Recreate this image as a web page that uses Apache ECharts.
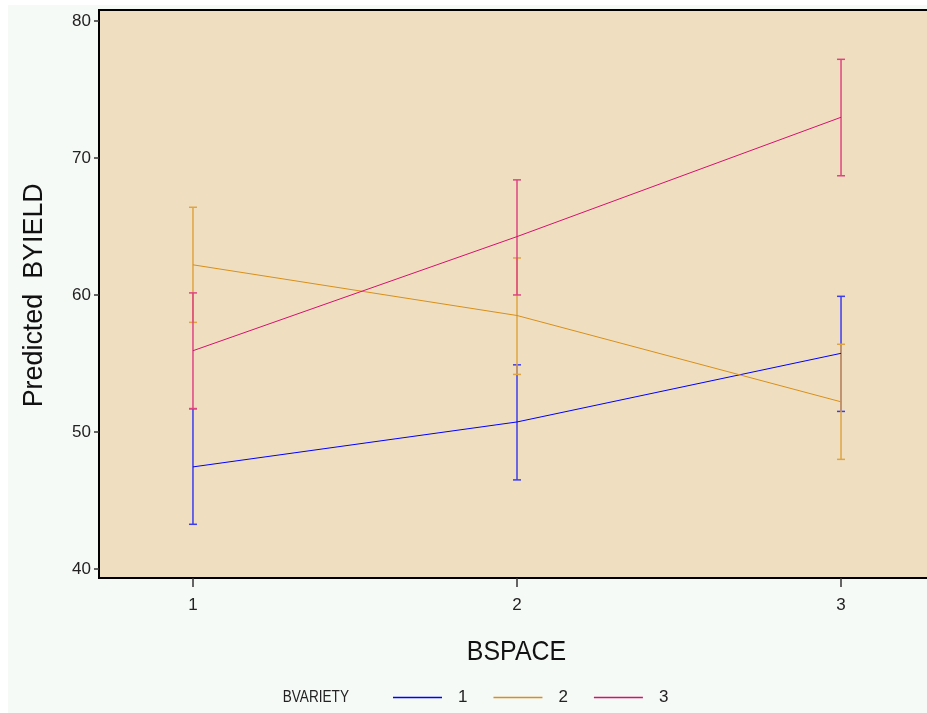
<!DOCTYPE html>
<html>
<head>
<meta charset="utf-8">
<script src="https://cdn.jsdelivr.net/npm/echarts@6/dist/echarts.min.js"></script>
<style>
  html, body { margin: 0; padding: 0; background: #ffffff; overflow: hidden; width: 927px; height: 713px; }
  #chart { position: absolute; left: 8px; top: 5px; width: 940px; height: 708px; }
</style>
</head>
<body>
<div id="chart"></div>
<script>
// BSPACE levels on the x axis
const spaces = [1, 2, 3];
// BVARIETY groups
const varieties = ['1', '2', '3'];

// Predicted BYIELD with lower / upper confidence limits, per variety
const pred1  = [47.45, 50.73, 55.74];
const lower1 = [43.26, 46.50, 51.50];
const upper1 = [51.70, 54.90, 59.90];

const pred2  = [62.20, 58.50, 52.20];
const lower2 = [58.00, 54.20, 48.00];
const upper2 = [66.40, 62.70, 56.40];

const pred3  = [55.93, 64.26, 72.97];
const lower3 = [51.70, 60.00, 68.70];
const upper3 = [60.15, 68.40, 77.20];

const yTicks = [40, 50, 60, 70, 80];

// line colours and the softer tones used for the interval bars
const colors = ['#0000ff', '#d98f1a', '#d8106e'];
const barColors = ['#3c3cef', '#dfa443', '#de4482'];
const FONT = "'Liberation Sans', Arial, Helvetica, sans-serif";

const groups = [
  { pred: pred1, lower: lower1, upper: upper1 },
  { pred: pred2, lower: lower2, upper: upper2 },
  { pred: pred3, lower: lower3, upper: upper3 }
];

// Vertical interval with caps at both limits
function errorBar(color) {
  return function (params, api) {
    const x = api.value(0);
    const lo = api.coord([x, api.value(1)]);
    const hi = api.coord([x, api.value(2)]);
    const half = 4;
    const style = { stroke: color, lineWidth: 1.5 };
    return {
      type: 'group',
      children: [
        { type: 'line', shape: { x1: lo[0], y1: lo[1], x2: hi[0], y2: hi[1] }, style: style },
        { type: 'line', shape: { x1: lo[0] - half, y1: lo[1], x2: lo[0] + half, y2: lo[1] }, style: style },
        { type: 'line', shape: { x1: hi[0] - half, y1: hi[1], x2: hi[0] + half, y2: hi[1] }, style: style }
      ]
    };
  };
}

const series = [];
groups.forEach(function (g, k) {
  series.push({
    type: 'custom',
    name: 'ci' + varieties[k],
    renderItem: errorBar(barColors[k]),
    encode: { x: 0, y: [1, 2] },
    data: spaces.map(function (s, i) { return [s, g.lower[i], g.upper[i]]; }),
    silent: true
  });
  series.push({
    type: 'line',
    name: varieties[k],
    color: colors[k],
    symbol: 'none',
    lineStyle: { width: 1, color: colors[k] },
    data: spaces.map(function (s, i) { return [s, g.pred[i]]; }),
    silent: true
  });
});

const chart = echarts.init(document.getElementById('chart'), null, { renderer: 'canvas' });
chart.setOption({
  backgroundColor: '#f6faf7',
  animation: false,
  grid: {
    left: 91, top: 5, right: 13, bottom: 135,
    show: true,
    backgroundColor: '#efdfc0',
    borderColor: '#000000',
    borderWidth: 2
  },
  xAxis: {
    type: 'value',
    min: 0.71, max: 3.29,
    axisLine: { show: false },
    splitLine: { show: false },
    axisTick: { show: true, length: 9, lineStyle: { color: '#333333', width: 1.5 }, customValues: spaces },
    axisLabel: { customValues: spaces, margin: 19, fontSize: 17, color: '#222222', fontFamily: FONT }
  },
  yAxis: {
    type: 'value',
    min: 39.34, max: 80.8,
    axisLine: { show: false },
    splitLine: { show: false },
    axisTick: { show: true, length: 5, lineStyle: { color: '#333333', width: 1.5 }, customValues: yTicks },
    axisLabel: { customValues: yTicks, margin: 8, fontSize: 17, color: '#222222', fontFamily: FONT }
  },
  legend: {
    data: varieties,
    left: 380,
    top: 679,
    orient: 'horizontal',
    icon: 'rect',
    itemWidth: 49,
    itemHeight: 1.5,
    itemGap: 26,
    textStyle: { fontSize: 17, color: '#222222', fontFamily: FONT, padding: [4, 0, 0, 11] }
  },
  graphic: [
    {
      type: 'text', x: 508.5, y: 647.5, scaleX: 0.89,
      style: { text: 'BSPACE', fontSize: 28, fontFamily: FONT, fill: '#111111', align: 'center', verticalAlign: 'middle' }
    },
    {
      type: 'text', x: 26, y: 290.3, rotation: Math.PI / 2, scaleX: 0.96,
      style: { text: 'Predicted  BYIELD', fontSize: 28, fontFamily: FONT, fill: '#111111', align: 'center', verticalAlign: 'middle' }
    },
    {
      type: 'text', x: 274.7, y: 692, scaleX: 0.8,
      style: { text: 'BVARIETY', fontSize: 17, fontFamily: FONT, fill: '#222222', align: 'left', verticalAlign: 'middle' }
    }
  ],
  series: series
});
</script>
</body>
</html>
